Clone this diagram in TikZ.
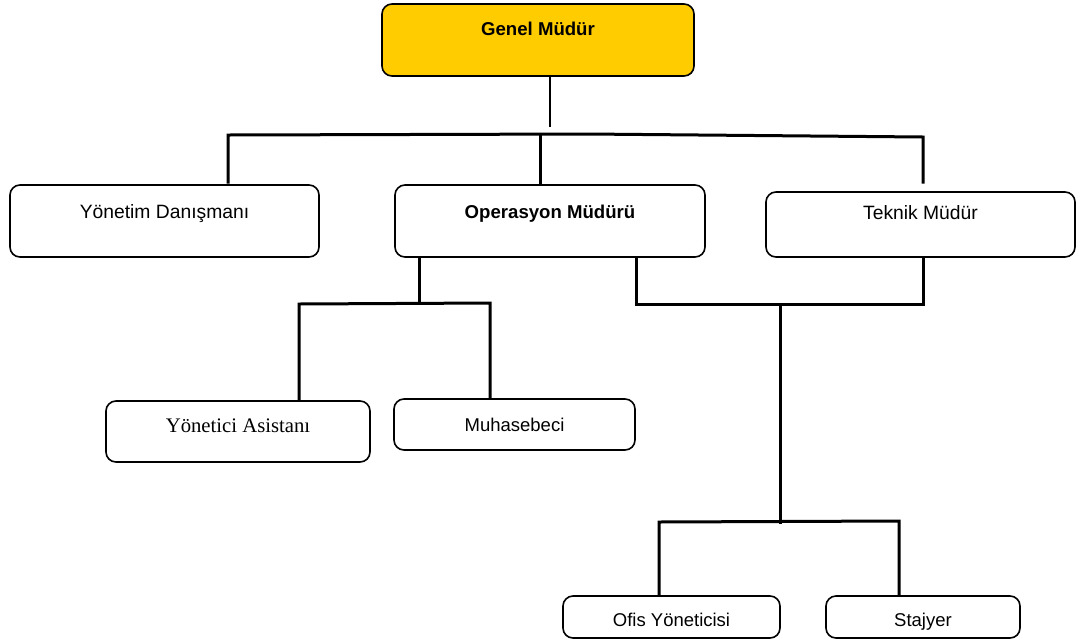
\documentclass[tikz,border=0pt]{standalone}
\usepackage{fontspec}
\setmainfont{Liberation Sans}
\newfontfamily\timesfont{Liberation Serif}
\usepackage{tikz}
\usetikzlibrary{positioning,calc}
\definecolor{gold}{RGB}{255,204,0}
\tikzstyle{box}=[%
      rectangle, rounded corners=10pt, draw=black, line width=1.6pt, fill=white,
      inner xsep=4pt, inner ysep=0pt, outer sep=0pt, anchor=north,
      font=\fontsize{18.5}{22}\selectfont
]
\tikzstyle{bigbox}=[%
      box, font=\fontsize{19.3}{23}\selectfont
]
\tikzstyle{boldbox}=[%
      box, font=\fontsize{18.6}{22}\selectfont\bfseries
]
\tikzstyle{chief}=[%
      boldbox, fill=gold
]
\tikzstyle{link}=[%
      draw=black, line width=3pt, line cap=rect
]
\tikzstyle{thinlink}=[%
      draw=black, line width=1.3pt
]
\begin{document}
\begin{tikzpicture}[x=1pt, y=-1pt]
    \useasboundingbox (0,0) rectangle (1085,641);

    \node[chief, minimum width=312pt, text height=31pt, text depth=41pt]   (gm) at (538,4)     {Genel Müdür};
    \node[bigbox, minimum width=309pt, text height=33.5pt, text depth=38.5pt] (yd) at (164.5,185) {Yönetim Danışmanı};
    \node[boldbox, minimum width=310pt, text height=33.5pt, text depth=38.5pt] (om) at (550,185) {Operasyon Müdürü};
    \node[bigbox, minimum width=309pt, text height=27.5pt, text depth=37.5pt] (tm) at (920.5,192) {Teknik Müdür};
    \node[box, font=\fontsize{20.7}{24}\selectfont\timesfont, minimum width=264pt,
          text height=31.5pt, text depth=29.5pt]                           (ya) at (238,401)   {Yönetici Asistanı};
    \node[box, minimum width=241pt, text height=32.5pt, text depth=18.5pt] (mh) at (514.5,399) {Muhasebeci};
    \node[box, minimum width=217pt, text height=30.5pt, text depth=11.5pt] (of) at (671.5,596) {Ofis Yöneticisi};
    \node[box, minimum width=194pt, text height=30.5pt, text depth=11.5pt] (st) at (923,596)   {Stajyer};

    % top level
    \coordinate (gmend) at (550,127);
    \coordinate (barL) at (228,135);
    \coordinate (barO) at (540,134.5);
    \coordinate (barM) at (587,134);
    \coordinate (barR) at (923,137);
    \draw[thinlink] (gm.south -| gmend) -- (gmend);
    \draw[link] ([yshift=3pt]yd.north -| barL) -- (barL) -- (barM) -- (barR)
                -- ([yshift=10pt]tm.north -| barR);
    \draw[link] (barO) -- ([yshift=3pt]om.north -| barO);

    % under Operasyon
    \coordinate (opL) at (419,303);
    \coordinate (asL) at (299,304);
    \coordinate (asR) at (490,303);
    \draw[link] (om.south -| opL) -- (opL);
    \draw[link] ([yshift=2pt]ya.north -| asL) -- (asL) -- (asR) -- ([yshift=1pt]mh.north -| asR);

    % Operasyon -- Teknik
    \coordinate (tkL) at (636,304);
    \coordinate (tkM) at (780,304);
    \coordinate (tkR) at (923,304);
    \draw[link] (om.south -| tkL) -- (tkL) -- (tkR) -- (tm.south -| tkR);

    % lowest level
    \coordinate (ofM) at (780,522);
    \coordinate (ofL) at (659,522);
    \coordinate (ofR) at (899,521);
    \draw[link] (tkM) -- (ofM);
    \draw[link] ([yshift=2pt]of.north -| ofL) -- (ofL) -- (ofR) -- ([yshift=2pt]st.north -| ofR);
\end{tikzpicture}
\end{document}
